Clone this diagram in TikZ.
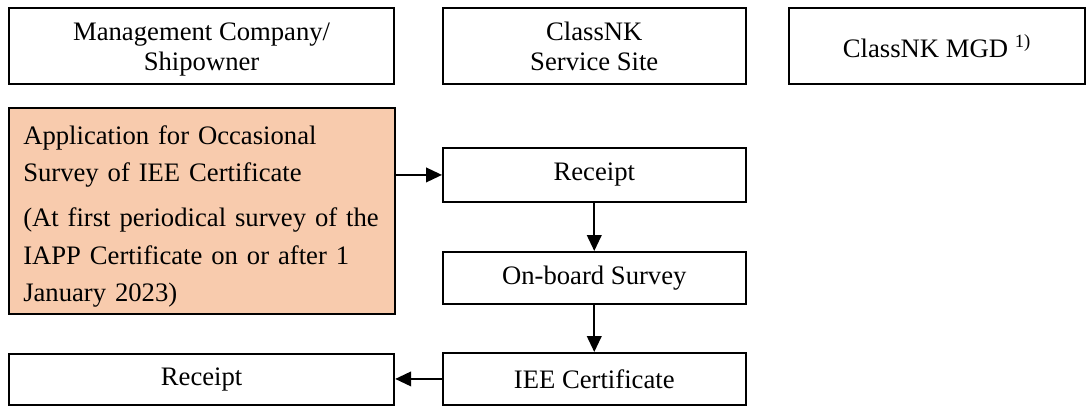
\documentclass[tikz,border=0pt]{standalone}
\usepackage{fontspec}
\setmainfont{Liberation Serif}
\usetikzlibrary{arrows.meta}
\definecolor{apporange}{HTML}{F8CBAD}
\newcommand{\headlift}{\rule{0pt}{21.75pt}}
\newcommand{\applift}{\rule{0pt}{22pt}}

\begin{document}
\begin{tikzpicture}[x=0.75pt, y=-0.75pt, line width=1.4pt,
    box/.style = {draw, anchor=north west, inner sep=0pt, align=center,
      font=\fontsize{20}{22.5}\selectfont},
    flow/.style = {-{Triangle[length=12pt,width=11pt]}}]
                \useasboundingbox (0,0) rectangle (1086,405);
                % column heads
                \node[box, minimum width=289pt, minimum height=57pt] (mgmt) at (8,7) {\headlift Management Company/\\\strut Shipowner};
                \node[box, minimum width=227pt, minimum height=57pt] (site) at (442,7) {\headlift ClassNK\\\strut Service Site};
                \node[box, minimum width=222pt, minimum height=57pt] (mgd) at (788,7) {ClassNK MGD \textsuperscript{1)}};
                % flow
                \node[box, fill=apporange, align=left, text width=268pt, inner xsep=10.75pt,
                  minimum height=154.5pt, font=\fontsize{20}{28}\selectfont] (app) at (8,107)
                  {\applift Application for Occasional\\Survey of IEE Certificate\\[6pt](At first periodical survey of the\\IAPP Certificate on or after 1\\January 2023)};
                \node[box, minimum width=227pt, minimum height=40.5pt] (rec1) at (442,147) {Receipt};
                \node[box, minimum width=227pt, minimum height=39pt] (survey) at (442,251) {On-board Survey};
                \node[box, minimum width=227pt, minimum height=39pt] (cert) at (442,352) {IEE Certificate};
                \node[box, minimum width=289pt, minimum height=38.5pt] (rec2) at (8,353) {Receipt};
                \draw[flow] (app.east |- rec1.west) -- (rec1.west);
                \draw[flow] (rec1) -- (survey);
                \draw[flow] (survey) -- (cert);
                \draw[flow] (cert.west) -- (rec2.east |- cert.west);
            \end{tikzpicture}
\end{document}
